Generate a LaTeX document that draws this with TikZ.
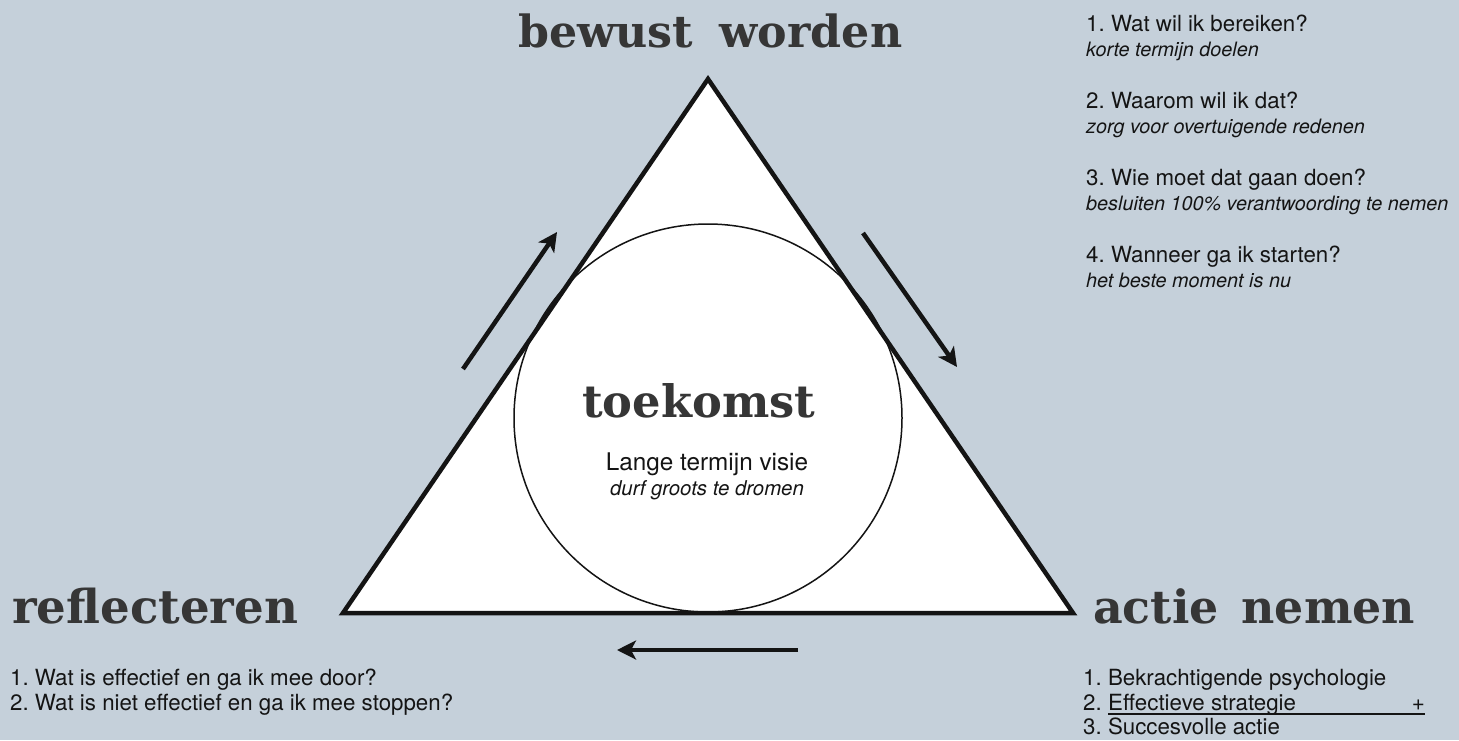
\documentclass[tikz,border=0pt]{standalone}
\usepackage{fontspec}
\usepackage{graphicx}
\setmainfont{TeX Gyre Heros}
\newfontfamily\slabfont{DejaVu Serif}
\usetikzlibrary{arrows.meta}
\frenchspacing

\definecolor{bgblue}{HTML}{C5D0DA}
\definecolor{chalk}{HTML}{363636}
\definecolor{ink}{HTML}{141414}

% heading set in a slab serif, stretched to a fixed width
\newcommand{\slabword}[2]{\resizebox{#1}{!}{#2}}

\tikzset{
  heading/.style={font=\slabfont\bfseries, text=chalk, inner sep=0pt, anchor=base west},
  item/.style={font=\fontsize{22.3}{26}\selectfont, text=ink, inner sep=0pt, anchor=base west},
  note/.style={font=\fontsize{19.8}{24}\selectfont\itshape, text=ink, inner sep=0pt, anchor=base west},
  flow/.style={line width=4.5pt, draw=ink, -{Stealth[length=19pt,width=19pt,inset=5pt]}},
}

\begin{document}
\begin{tikzpicture}[x=1pt, y=-1pt]
  % canvas
  \fill[bgblue] (0,0) rectangle (1459,740);
  \useasboundingbox (0,0) rectangle (1459,740);

  % triangle corners
  \coordinate (top) at (708,79);
  \coordinate (bl) at (343,613);
  \coordinate (br) at (1073,613);

  \fill[white] (top) -- (br) -- (bl) -- cycle;
  \node[circle, draw=ink, fill=white, line width=1.5pt, minimum size=388pt, inner sep=0pt] (core) at (708,418) {};
  \draw[ink, line width=4.5pt, line join=miter] (top) -- (br) -- (bl) -- cycle;

  % cycle arrows
  \coordinate (a1s) at (463,369);
  \coordinate (a1e) at (557,232);
  \coordinate (a2s) at (863,233);
  \coordinate (a2e) at (957,367);
  \coordinate (a3s) at (798,650);
  \coordinate (a3e) at (617,650);
  \draw[flow] (a1s) -- (a1e);
  \draw[flow] (a2s) -- (a2e);
  \draw[flow] (a3s) -- (a3e);

  % headings
  \node[heading] (hBewust) at (518,47) {\slabword{384pt}{bewust\hspace{.6em}worden}};
  \node[heading] (hToekomst) at (582,417) {\slabword{233pt}{toekomst}};
  \node[heading] (hReflect) at (12,623) {\slabword{286pt}{reflecteren}};
  \node[heading] (hActie) at (1093,623) {\slabword{322pt}{actie\hspace{.5em}nemen}};

  % centre text
  \node[item, anchor=base, font=\fontsize{24.3}{28}\selectfont] (visie) at (707,470) {Lange termijn visie};
  \node[note, anchor=base, font=\fontsize{20.4}{24}\selectfont\itshape] (dromen) at (707,495) {durf groots te dromen};

  % questions, top right
  \node[item] (q1) at (1086,31) {1. Wat wil ik bereiken?};
  \node[note] (q1n) at (1086,56) {korte termijn doelen};
  \node[item] (q2) at (1086,108) {2. Waarom wil ik dat?};
  \node[note] (q2n) at (1086,133) {zorg voor overtuigende redenen};
  \node[item] (q3) at (1086,185) {3. Wie moet dat gaan doen?};
  \node[note] (q3n) at (1086,210) {besluiten 100\% verantwoording te nemen};
  \node[item] (q4) at (1086,262) {4. Wanneer ga ik starten?};
  \node[note] (q4n) at (1086,287) {het beste moment is nu};

  % reflection list
  \node[item] (r1) at (10,685) {1. Wat is effectief en ga ik mee door?};
  \node[item] (r2) at (10,710) {2. Wat is niet effectief en ga ik mee stoppen?};

  % action list
  \node[item] (b1) at (1083,685) {1. Bekrachtigende psychologie};
  \node[item] (b2n) at (1083,710) {2.};
  \node[item] (b2) at (1108,710) {Effectieve strategie};
  \node[item, anchor=base east] (plus) at (1425,710) {+};
  \draw[ink, line width=1.3pt] ([yshift=-4pt]b2.base west) -- ([yshift=-4pt]plus.base east);
  \node[item] (b3) at (1083,734) {3. Succesvolle actie};
\end{tikzpicture}
\end{document}
